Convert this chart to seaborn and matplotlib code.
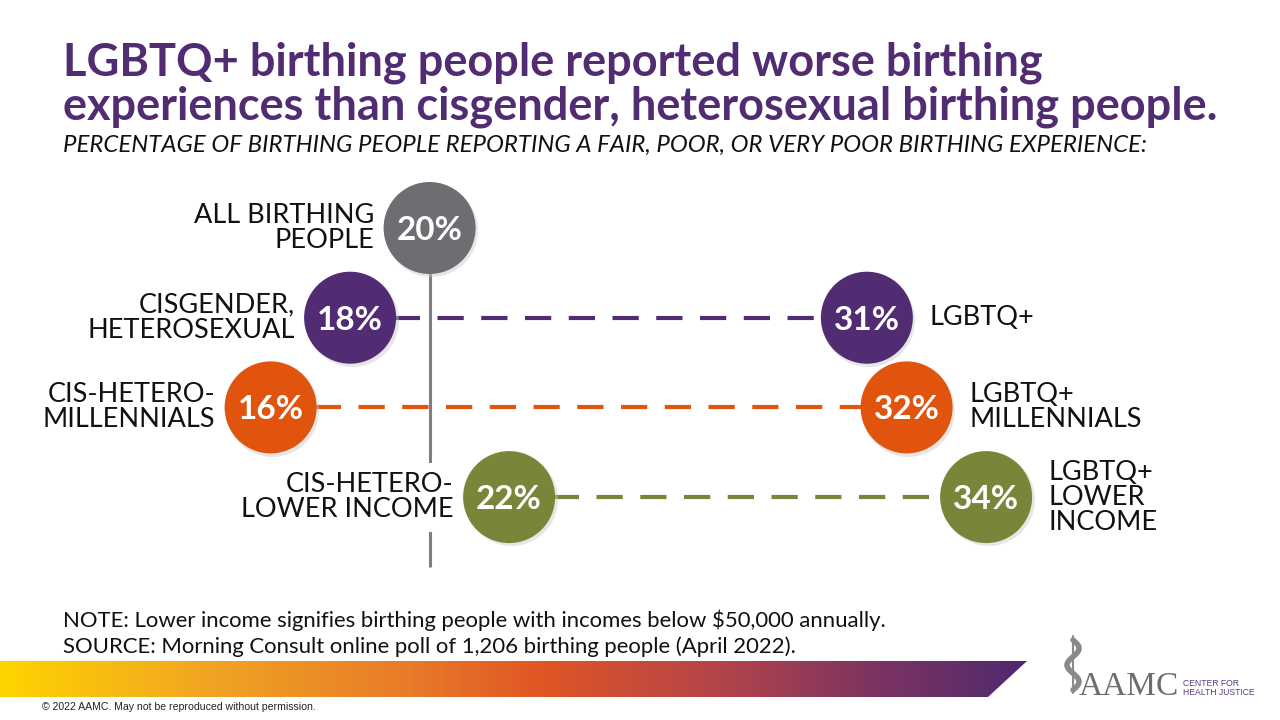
import numpy as np
import pandas as pd
import matplotlib
matplotlib.use("Agg")
import matplotlib.pyplot as plt
from matplotlib.colors import LinearSegmentedColormap
from matplotlib.patches import Polygon
import seaborn as sns

# ---------------- data ----------------
groups = ["All birthing people", "Cisgender, heterosexual",
          "Cis-hetero millennials", "Cis-hetero lower income"]
left_values = [20, 18, 16, 22]
right_values = [None, 31, 32, 34]
left_labels = ["ALL BIRTHING\nPEOPLE", "CISGENDER,\nHETEROSEXUAL",
               "CIS-HETERO-\nMILLENNIALS", "CIS-HETERO-\nLOWER INCOME"]
right_labels = [None, "LGBTQ+", "LGBTQ+\nMILLENNIALS", "LGBTQ+\nLOWER\nINCOME"]
colors = ["#6D6E71", "#512C73", "#E0540E", "#7A853A"]

title_lines = ["LGBTQ+ birthing people reported worse birthing",
               "experiences than cisgender, heterosexual birthing people."]
subtitle = ("PERCENTAGE OF BIRTHING PEOPLE REPORTING A FAIR, POOR, "
            "OR VERY POOR BIRTHING EXPERIENCE:")
note = "NOTE: Lower income signifies birthing people with incomes below $50,000 annually."
source = "SOURCE: Morning Consult online poll of 1,206 birthing people (April 2022)."
copyright_txt = "\u00a9 2022 AAMC. May not be reproduced without permission."

# ---------------- figure ----------------
sns.set_theme(style="white")
FONT = "Lato"
plt.rcParams["font.family"] = [FONT, "DejaVu Sans"]

W, H = 1280, 720
fig = plt.figure(figsize=(12.8, 7.2), dpi=100)
fig.patch.set_facecolor("white")

# decoration layer in pixel coordinates
deco = fig.add_axes([0, 0, 1, 1], zorder=0)
deco.set_xlim(0, W)
deco.set_ylim(H, 0)
deco.axis("off")

# data axes: x = percent, y = row index
ax = fig.add_axes([0, 0, 1, 1], zorder=1)
ax.patch.set_alpha(0)
px_per_pct = 39.75
x0_pix, x0_val = 350.1, 18
xmin = x0_val - x0_pix / px_per_pct
xmax = x0_val + (W - x0_pix) / px_per_pct
row0_pix, row_step = 228, 89.7
ymin = -row0_pix / row_step
ymax = (H - row0_pix) / row_step

rows = list(range(len(groups)))
pts = []
for i, g in enumerate(groups):
    pts.append(dict(group=g, side="left", value=left_values[i], row=i))
    if right_values[i] is not None:
        pts.append(dict(group=g, side="right", value=right_values[i], row=i))
df = pd.DataFrame(pts)

# vertical reference line at "all birthing people"
ax.plot([left_values[0], left_values[0]], [0, 3.78], color="#7F7F7F", lw=2.2,
        zorder=1, solid_capstyle="butt")

# dashed connectors
for i in rows:
    if right_values[i] is not None:
        ax.plot([left_values[i], right_values[i]], [i, i], color=colors[i], lw=3,
                linestyle=(0, (6.3, 4.2)), zorder=2)

# circles (with soft shadow)
S = (92 * 0.72) ** 2
ax.scatter(df["value"] + 0.04, df["row"] + 0.025, s=S * 1.02, color="#C8C8C8",
           alpha=0.45, linewidths=0, zorder=3)
sns.scatterplot(data=df, x="value", y="row", hue="group",
                palette=dict(zip(groups, colors)), s=S, linewidth=0,
                legend=False, ax=ax, zorder=4)
ax.set_xlim(xmin, xmax)
ax.set_ylim(ymax, ymin)
ax.axis("off")

# percent labels
for _, r in df.iterrows():
    ax.text(r["value"], r["row"], f"{r['value']}%", color="white", fontsize=24,
            fontweight="bold", ha="center", va="center_baseline", zorder=5)

# category labels
lab_fs = 19.5
for i in rows:
    ax.annotate(left_labels[i], xy=(left_values[i], i), xytext=(-40, 0),
                textcoords="offset points", ha="right", va="center",
                fontsize=lab_fs, color="#111111", linespacing=1.0, zorder=5,
                bbox=dict(boxstyle="square,pad=0.35", fc="white", ec="none") if i == 3 else None)
    if right_labels[i] is not None:
        ax.annotate(right_labels[i], xy=(right_values[i], i), xytext=(45, 0),
                    textcoords="offset points", ha="left", va="center",
                    fontsize=lab_fs, color="#111111", linespacing=1.0, zorder=5)

# titles
fig.text(63 / W, 1 - 75 / H, title_lines[0], fontsize=32.5, fontweight="bold",
         color="#512C73", ha="left", va="baseline")
fig.text(63 / W, 1 - 120 / H, title_lines[1], fontsize=32.5, fontweight="bold",
         color="#512C73", ha="left", va="baseline")
fig.text(63 / W, 1 - 152 / H, subtitle, fontsize=17.3, style="italic", color="#111111",
         ha="left", va="baseline")

# notes
fig.text(63 / W, 1 - 627 / H, note, fontsize=15.9, color="#111111", ha="left", va="baseline")
fig.text(63 / W, 1 - 653 / H, source, fontsize=15.9, color="#111111", ha="left", va="baseline")

# gradient bar
cmap = LinearSegmentedColormap.from_list("bar", [
    (0.0, "#FFD400"), (0.2, "#F0A522"), (0.4, "#E87A29"), (0.53, "#E05525"),
    (0.7, "#B4444A"), (0.85, "#7D3461"), (1.0, "#4F296F")])
grad = np.linspace(0, 1, 512).reshape(1, -1)
im = deco.imshow(grad, cmap=cmap, extent=[0, 1027, 697, 661], aspect="auto", zorder=1)
poly = Polygon([(0, 661), (1027, 661), (988, 697), (0, 697)], closed=True,
               transform=deco.transData, fc="none", ec="none")
deco.add_patch(poly)
im.set_clip_path(poly)
deco.set_xlim(0, W)
deco.set_ylim(H, 0)

fig.text(42 / W, 1 - 707 / H, copyright_txt, fontsize=7.6, color="#222222",
         ha="left", va="center", family=["Liberation Sans Narrow", "Liberation Sans", "DejaVu Sans"])

# logo
t = np.linspace(0, 1, 100)
deco.plot(1073 + 6 * np.sin(t * 3 * np.pi), 640 + 50 * t, color="#8A8A8A", lw=4,
          solid_capstyle="round", zorder=2)
deco.plot([1073, 1073], [636, 693], color="#8A8A8A", lw=1.5, zorder=2)
deco.text(1079, 695, "AAMC", fontsize=24, color="#6D6E71", ha="left", va="baseline",
          family=["Liberation Serif", "DejaVu Serif"], zorder=2)
deco.text(1183, 695, "CENTER FOR\nHEALTH JUSTICE", fontsize=6.2, color="#5B3A80",
          ha="left", va="baseline", linespacing=1.0,
          family=["Liberation Sans Narrow", "Liberation Sans", "DejaVu Sans"], zorder=2)

fig.savefig("out.png", dpi=100, facecolor="white")
